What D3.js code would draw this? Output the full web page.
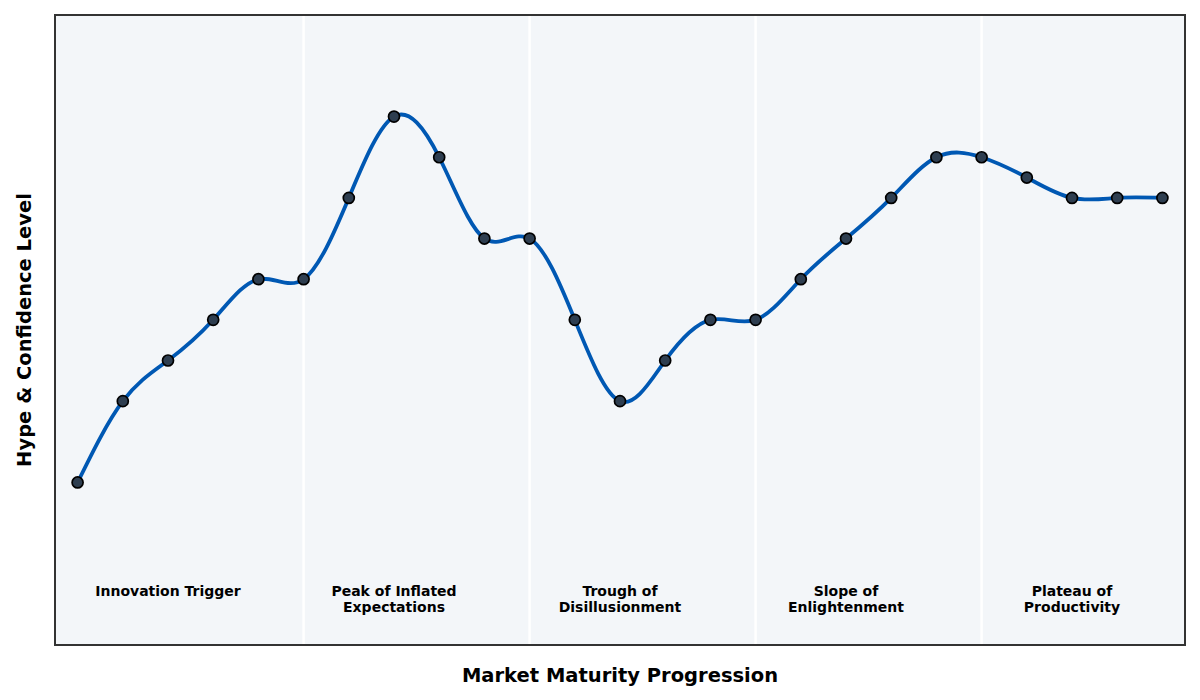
<!DOCTYPE html>
<html>
<head>
<meta charset="utf-8">
<script src="https://cdn.jsdelivr.net/npm/d3@7"></script>
<style>
  html, body { margin: 0; padding: 0; background: #ffffff; }
  svg { display: block; font-family: "DejaVu Sans", sans-serif; }
</style>
</head>
<body>
<svg id="chart" width="1200" height="700"></svg>
<script>
// ---- data ----
const stepIndex = d3.range(25);
const hypeValues = [10, 30, 40, 50, 60, 60, 80, 100, 90, 70, 70, 50, 30, 40, 50, 50, 60, 70, 80, 90, 90, 85, 80, 80, 80];
const phaseBoundaries = [5, 10, 15, 20];
const phaseLabelPositions = [2, 7, 12, 17, 22];
const phaseLabels = [
  ["Innovation Trigger"],
  ["Peak of Inflated", "Expectations"],
  ["Trough of", "Disillusionment"],
  ["Slope of", "Enlightenment"],
  ["Plateau of", "Productivity"]
];
const xAxisTitle = "Market Maturity Progression";
const yAxisTitle = "Hype & Confidence Level";

// ---- layout ----
const margin = { left: 55, top: 15, right: 15, bottom: 55 };
const width = 1200, height = 700;
const svg = d3.select("#chart");

const x = d3.scaleLinear().domain([-0.5, 24.5]).range([margin.left, width - margin.right]);
const y = d3.scaleLinear().domain([-30, 125]).range([height - margin.bottom, margin.top]);

// background
svg.append("rect")
  .attr("x", margin.left).attr("y", margin.top)
  .attr("width", width - margin.left - margin.right)
  .attr("height", height - margin.top - margin.bottom)
  .attr("fill", "#f3f6f9");

// phase separators
svg.selectAll("line.sep").data(phaseBoundaries).join("line")
  .attr("class", "sep")
  .attr("x1", d => x(d)).attr("x2", d => x(d))
  .attr("y1", margin.top).attr("y2", height - margin.bottom)
  .attr("stroke", "#ffffff").attr("stroke-width", 2.5);

// curve
const line = d3.line()
  .x((d, i) => x(stepIndex[i]))
  .y(d => y(d))
  .curve(d3.curveNatural);

svg.append("path")
  .datum(hypeValues)
  .attr("d", line)
  .attr("fill", "none")
  .attr("stroke", "#0058b3")
  .attr("stroke-width", 3.8)
  .attr("stroke-linejoin", "round");

// points
svg.selectAll("circle.pt").data(hypeValues).join("circle")
  .attr("class", "pt")
  .attr("cx", (d, i) => x(stepIndex[i]))
  .attr("cy", d => y(d))
  .attr("r", 5.5)
  .attr("fill", "#2e3e50")
  .attr("stroke", "#000000")
  .attr("stroke-width", 1.7);

// phase labels
const lbl = svg.selectAll("text.phase").data(phaseLabels).join("text")
  .attr("class", "phase")
  .attr("x", (d, i) => x(phaseLabelPositions[i]))
  .attr("y", 596)
  .attr("text-anchor", "middle")
  .attr("font-size", "14px")
  .attr("font-weight", "bold")
  .attr("fill", "#000");
lbl.each(function(d) {
  const t = d3.select(this);
  d.forEach((s, j) => {
    t.append("tspan").attr("x", t.attr("x")).attr("dy", j === 0 ? 0 : 15.5).text(s);
  });
});

// frame
svg.append("rect")
  .attr("x", margin.left).attr("y", margin.top)
  .attr("width", width - margin.left - margin.right)
  .attr("height", height - margin.bottom - margin.top)
  .attr("fill", "none")
  .attr("stroke", "#333333")
  .attr("stroke-width", 2);

// axis titles
svg.append("text")
  .attr("x", (margin.left + width - margin.right) / 2)
  .attr("y", 682)
  .attr("text-anchor", "middle")
  .attr("font-size", "19.5px")
  .attr("font-weight", "bold")
  .text(xAxisTitle);

svg.append("text")
  .attr("transform", `translate(31, ${(margin.top + height - margin.bottom) / 2}) rotate(-90)`)
  .attr("text-anchor", "middle")
  .attr("font-size", "19.5px")
  .attr("font-weight", "bold")
  .text(yAxisTitle);
</script>
</body>
</html>
